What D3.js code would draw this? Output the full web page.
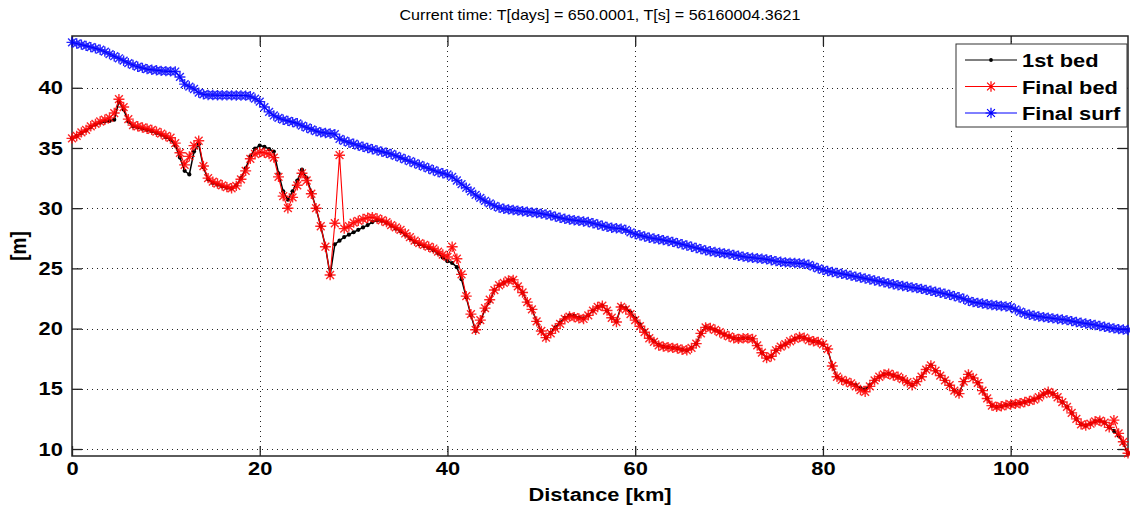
<!DOCTYPE html>
<html><head><meta charset="utf-8">
<script src="https://cdn.jsdelivr.net/npm/d3@7"></script>
<style>body{margin:0;background:#fff} svg{display:block}</style>
</head><body>
<svg id="c" width="1130" height="510"></svg>
<script>
const titleText = "Current time: T[days] = 650.0001, T[s] = 56160004.3621";
const xLabel = "Distance [km]";
const yLabel = "[m]";
const seriesNames = ["1st bed", "Final bed", "Final surf"];
const xTicks = [0, 20, 40, 60, 80, 100];
const yTicks = [10, 15, 20, 25, 30, 35, 40];
const xDomain = [0, 112.5];
const yDomain = [9.42, 44.3];
const stepKm = 0.5;

const firstBed = [
35.8,36.0,36.25,36.45,36.75,36.95,37.1,37.2,37.25,37.35,
38.85,38.2,37.2,36.8,36.7,36.6,36.5,36.4,36.25,36.1,
35.9,35.7,35.2,34.2,33.1,32.8,34.7,35.3,33.4,32.4,
32.1,31.95,31.8,31.7,31.65,31.9,32.5,33.3,34.3,34.95,
35.2,35.1,34.9,34.7,32.9,31.4,30.7,31.4,32.3,33.2,
32.5,31.3,30.0,28.5,26.8,24.45,27.0,27.3,27.6,27.8,
28.0,28.2,28.4,28.6,28.85,29.0,28.95,28.8,28.55,28.3,
28.1,27.8,27.5,27.2,27.0,26.85,26.7,26.5,26.25,25.9,
25.6,25.45,25.1,24.1,22.6,21.1,19.8,20.6,21.6,22.3,
23.2,23.6,23.8,24.0,24.05,23.5,23.0,22.2,21.6,20.6,
19.8,19.25,19.65,20.1,20.5,20.9,21.1,21.05,20.9,20.85,
21.1,21.5,21.8,21.9,21.5,20.9,20.6,21.85,21.7,21.35,
20.85,20.35,19.8,19.3,18.95,18.65,18.5,18.45,18.4,18.35,
18.25,18.2,18.4,18.75,19.6,20.1,20.05,19.9,19.7,19.5,
19.35,19.2,19.15,19.2,19.2,19.15,18.6,18.0,17.55,17.7,
18.2,18.5,18.7,18.95,19.15,19.3,19.25,19.05,18.95,18.9,
18.7,18.3,16.9,16.0,15.75,15.6,15.45,15.3,15.05,14.95,
15.3,15.7,16.0,16.2,16.25,16.1,16.0,15.8,15.55,15.3,
15.6,16.0,16.6,16.95,16.5,16.1,15.7,15.3,14.85,14.6,
15.6,16.2,15.9,15.5,14.85,14.2,13.6,13.5,13.55,13.65,
13.7,13.75,13.8,13.9,14.0,14.1,14.3,14.55,14.75,14.6,
14.3,13.9,13.5,13.0,12.5,12.05,11.95,12.1,12.3,12.35,
12.2,11.8,11.5,11.1,10.5,9.65
];

const finalBed = [
35.8,36.0,36.3,36.5,36.8,37.0,37.2,37.35,37.5,37.9,
39.05,38.4,37.4,36.9,36.8,36.7,36.6,36.5,36.35,36.2,
36.0,35.85,35.4,34.6,33.6,34.3,35.2,35.6,33.5,32.5,
32.2,32.05,31.9,31.75,31.65,31.85,32.4,33.1,34.1,34.5,
34.65,34.6,34.5,34.2,32.6,31.0,30.0,30.9,31.9,32.9,
32.3,31.2,30.0,28.5,26.8,24.45,28.75,34.4,28.3,28.5,
28.8,28.95,29.1,29.2,29.25,29.15,29.0,28.85,28.6,28.4,
28.2,27.9,27.6,27.3,27.1,26.95,26.8,26.65,26.4,26.15,
25.95,26.8,25.8,24.5,22.7,21.2,19.9,20.7,21.7,22.4,
23.2,23.6,23.8,24.0,24.05,23.5,23.0,22.2,21.6,20.6,
19.8,19.25,19.6,20.0,20.4,20.8,21.0,20.95,20.85,20.8,
21.1,21.5,21.8,21.9,21.5,20.9,20.55,21.8,21.6,21.2,
20.7,20.2,19.7,19.2,18.9,18.6,18.5,18.45,18.4,18.35,
18.25,18.2,18.4,18.75,19.6,20.1,20.05,19.9,19.7,19.5,
19.35,19.2,19.15,19.2,19.2,19.15,18.6,18.0,17.55,17.7,
18.2,18.5,18.7,18.95,19.15,19.3,19.25,19.05,18.95,18.9,
18.7,18.3,16.9,16.0,15.75,15.6,15.45,15.2,14.9,14.75,
15.2,15.7,16.0,16.2,16.25,16.1,16.0,15.8,15.55,15.3,
15.6,16.0,16.6,16.95,16.5,16.1,15.7,15.3,14.85,14.6,
15.6,16.2,15.9,15.5,14.85,14.2,13.6,13.5,13.55,13.65,
13.7,13.75,13.8,13.9,14.0,14.1,14.3,14.55,14.75,14.6,
14.3,13.9,13.5,13.0,12.5,12.05,11.95,12.1,12.3,12.35,
12.2,11.8,12.4,11.3,10.6,9.65
];

const finalSurf = [
43.77,43.68,43.58,43.48,43.38,43.27,43.16,43.0,42.8,42.62,
42.45,42.25,42.05,41.9,41.75,41.65,41.55,41.5,41.45,41.4,
41.38,41.36,41.35,40.9,40.3,40.1,39.9,39.6,39.45,39.4,
39.4,39.38,39.38,39.37,39.37,39.36,39.36,39.35,39.3,39.1,
38.85,38.4,38.0,37.7,37.5,37.35,37.25,37.15,37.05,36.85,
36.7,36.55,36.4,36.3,36.25,36.2,36.15,35.75,35.6,35.45,
35.35,35.2,35.1,35.0,34.9,34.8,34.7,34.6,34.5,34.35,
34.2,34.05,33.9,33.75,33.6,33.45,33.3,33.15,33.0,32.9,
32.8,32.6,32.3,32.0,31.7,31.4,31.1,30.85,30.6,30.4,
30.2,30.05,29.95,29.9,29.85,29.8,29.75,29.7,29.65,29.6,
29.55,29.48,29.4,29.3,29.2,29.12,29.05,29.0,28.95,28.9,
28.85,28.75,28.65,28.55,28.45,28.38,28.33,28.3,28.2,28.0,
27.85,27.75,27.65,27.55,27.48,27.42,27.35,27.28,27.2,27.1,
27.0,26.9,26.8,26.7,26.6,26.5,26.42,26.36,26.3,26.25,
26.2,26.12,26.05,25.98,25.92,25.88,25.84,25.8,25.75,25.68,
25.6,25.55,25.5,25.48,25.45,25.42,25.38,25.3,25.15,25.0,
24.88,24.78,24.7,24.62,24.55,24.48,24.4,24.32,24.24,24.16,
24.08,24.0,23.92,23.84,23.76,23.68,23.6,23.54,23.48,23.42,
23.36,23.3,23.22,23.14,23.06,22.98,22.9,22.8,22.7,22.6,
22.48,22.3,22.2,22.14,22.08,22.02,21.96,21.92,21.88,21.84,
21.78,21.6,21.4,21.25,21.15,21.08,21.0,20.95,20.9,20.85,
20.8,20.75,20.7,20.62,20.55,20.48,20.42,20.36,20.3,20.22,
20.15,20.08,20.02,19.96,19.92,19.88
];

const distance = finalBed.map((_, i) => i * stepKm);

const FONT = "'Liberation Sans', Arial, Helvetica, sans-serif";
const SX = 1.15; // horizontal stretch of the original figure text
const L = 72, R = 1128, T = 36, B = 456;

const svg = d3.select("#c");
const x = d3.scaleLinear().domain(xDomain).range([L, R]);
const y = d3.scaleLinear().domain(yDomain).range([B, T]);

// grid
const grid = svg.append("g").attr("stroke", "#222").attr("stroke-width", 1)
  .attr("stroke-dasharray", "1,4").attr("shape-rendering", "crispEdges");
grid.selectAll("line.vx").data(xTicks.filter(d => d > xDomain[0])).join("line")
  .attr("x1", d => Math.round(x(d)) + 0.5).attr("x2", d => Math.round(x(d)) + 0.5)
  .attr("y1", T).attr("y2", B);
grid.selectAll("line.hy").data(yTicks).join("line")
  .attr("y1", d => Math.round(y(d)) + 0.5).attr("y2", d => Math.round(y(d)) + 0.5)
  .attr("x1", L).attr("x2", R);

// axes
function styleAxis(g, hideText) {
  g.select(".domain").remove();
  g.selectAll(".tick line").attr("stroke", "#222").attr("stroke-width", 1.3);
  if (hideText) g.selectAll(".tick text").remove();
  else g.selectAll(".tick text").attr("fill", "#000").attr("font-family", FONT)
    .attr("font-size", 19).attr("font-weight", "bold");
}
const gx = svg.append("g").attr("transform", `translate(0,${B})`)
  .call(d3.axisBottom(x).tickValues(xTicks).tickFormat(d3.format("d")).tickSizeInner(-10).tickSizeOuter(0).tickPadding(6));
styleAxis(gx, false);
gx.selectAll(".tick text").attr("transform", `scale(${SX},1)`);
const gxt = svg.append("g").attr("transform", `translate(0,${T})`)
  .call(d3.axisTop(x).tickValues(xTicks).tickSizeInner(-10).tickSizeOuter(0));
styleAxis(gxt, true);
const gy = svg.append("g").attr("transform", `translate(${L},0)`)
  .call(d3.axisLeft(y).tickValues(yTicks).tickFormat(d3.format("d")).tickSizeInner(-10).tickSizeOuter(0).tickPadding(8));
styleAxis(gy, false);
gy.selectAll(".tick text").attr("transform", `scale(${SX},1)`);
const gyr = svg.append("g").attr("transform", `translate(${R},0)`)
  .call(d3.axisRight(y).tickValues(yTicks).tickSizeInner(-10).tickSizeOuter(0));
styleAxis(gyr, true);

svg.append("rect").attr("x", L).attr("y", T).attr("width", R - L).attr("height", B - T)
  .attr("fill", "none").attr("stroke", "#262626").attr("stroke-width", 1.5);

// marker shapes
function starPath(cx, cy) {
  const a = 5.5, b = 5.2, c = 3.9;
  return `M${cx - a},${cy}h${2 * a}M${cx},${cy - b}v${2 * b}` +
    `M${cx - c},${cy - c}l${2 * c},${2 * c}M${cx - c},${cy + c}l${2 * c},${-2 * c}`;
}

const line = d3.line().x(d => x(d[0])).y(d => y(d[1]));
const series = [
  { name: seriesNames[0], vals: firstBed, color: "#000000", marker: "dot" },
  { name: seriesNames[1], vals: finalBed, color: "#ff0000", marker: "star" },
  { name: seriesNames[2], vals: finalSurf, color: "#0000ff", marker: "star" }
];

series.forEach(s => {
  const pts = s.vals.map((v, i) => [distance[i], v]);
  const g = svg.append("g");
  g.append("path").attr("d", line(pts)).attr("fill", "none")
    .attr("stroke", s.color).attr("stroke-width", s.marker === "dot" ? 1.5 : 1.1);
  if (s.marker === "dot") {
    g.selectAll("circle").data(pts).join("circle")
      .attr("cx", d => x(d[0])).attr("cy", d => y(d[1])).attr("r", 2.1).attr("fill", s.color);
  } else {
    g.append("path").attr("d", pts.map(d => starPath(x(d[0]), y(d[1]))).join(""))
      .attr("fill", "none").attr("stroke", s.color).attr("stroke-width", 1.4)
      .attr("stroke-opacity", 0.85);
  }
});

// title and labels
svg.append("text").attr("transform", `translate(${(L + R) / 2},20) scale(${SX},1)`)
  .attr("text-anchor", "middle").attr("font-family", FONT).attr("font-size", 14)
  .attr("fill", "#000").text(titleText);
svg.append("text").attr("transform", `translate(${(L + R) / 2},501) scale(${SX},1)`)
  .attr("text-anchor", "middle").attr("font-family", FONT).attr("font-size", 19)
  .attr("font-weight", "bold").attr("fill", "#000").text(xLabel);
svg.append("text").attr("transform", `translate(26,${(T + B) / 2}) scale(${SX},1) rotate(-90)`)
  .attr("text-anchor", "middle").attr("font-family", FONT).attr("font-size", 19)
  .attr("font-weight", "bold").attr("fill", "#000").text(yLabel);

// legend
const lg = svg.append("g");
lg.append("rect").attr("x", 956).attr("y", 44).attr("width", 171).attr("height", 83)
  .attr("fill", "#fff").attr("stroke", "#333").attr("stroke-width", 1);
series.forEach((s, i) => {
  const ly = 60 + i * 26.5;
  lg.append("line").attr("x1", 965).attr("x2", 1017).attr("y1", ly).attr("y2", ly)
    .attr("stroke", s.color).attr("stroke-width", 1);
  if (s.marker === "dot") {
    lg.append("circle").attr("cx", 991).attr("cy", ly).attr("r", 1.9).attr("fill", s.color);
  } else {
    lg.append("path").attr("d", starPath(991, ly)).attr("fill", "none")
      .attr("stroke", s.color).attr("stroke-width", 1.2);
  }
  lg.append("text").attr("transform", `translate(1022,${ly + 7}) scale(${SX},1)`)
    .attr("font-family", FONT).attr("font-size", 19).attr("font-weight", "bold")
    .attr("fill", "#000").text(s.name);
});
</script>
</body></html>
